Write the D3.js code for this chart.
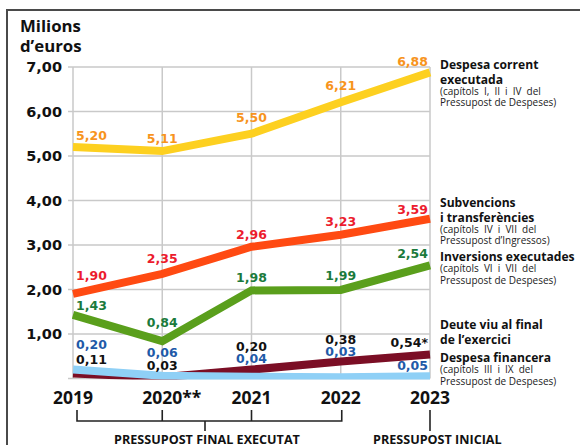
<!DOCTYPE html>
<html>
<head>
<meta charset="utf-8">
<script src="https://cdn.jsdelivr.net/npm/d3@7"></script>
<style>
  body { margin: 0; background: #fff; }
  svg { display: block; }
</style>
</head>
<body>
<div id="chart"></div>
<script>
// Data
const years = ["2019", "2020", "2021", "2022", "2023"];
const yearLabels = ["2019", "2020**", "2021", "2022", "2023"];
const yTicks = [0, 1, 2, 3, 4, 5, 6, 7];

const despesaCorrent = [5.20, 5.11, 5.50, 6.21, 6.88];
const subvencions = [1.90, 2.35, 2.96, 3.23, 3.59];
const inversions = [1.43, 0.84, 1.98, 1.99, 2.54];
const deuteViu = [0.11, 0.03, 0.20, 0.38, 0.54];
const despesaFinancera = [0.20, 0.06, 0.04, 0.03, 0.05];

const deuteLabels = ["0,11", "0,03", "0,20", "0,38", "0,54*"];

// Layout
const width = 580, height = 445;
const fmt = v => v.toFixed(2).replace(".", ",");

// series drawn in this order (maroon under light blue)
const series = [
  { values: despesaCorrent, line: "#fdd020", label: "#f7941d", dy: [-7, -8, -12, -12, -6] },
  { values: subvencions, line: "#ff4a12", label: "#ec1c2e", dy: [-14, -11, -8, -9, -5] },
  { values: inversions, line: "#5a9f1c", label: "#1b7a3c", dy: [-5, -14, -8, -10, -7] },
  { values: deuteViu, line: "#7b0e25", label: "#111111", dy: [-10, -7, -19, -18, -7], texts: deuteLabels },
  { values: despesaFinancera, line: "#8fd0f6", label: "#1f5aa8", dy: [-21, -19, -13.5, -21, -6] }
];

const legend = [
  { y: 69, title: ["Despesa corrent", "executada"], sub: ["(capítols I, II i IV del", "Pressupost de Despeses)"] },
  { y: 207, title: ["Subvencions", "i transferències"], sub: ["(capítols IV i VII del", "Pressupost d’Ingressos)"] },
  { y: 261, title: ["Inversions executades"], sub: ["(capítols VI i VII del", "Pressupost de Despeses)"] },
  { y: 329, title: ["Deute viu al final", "de l’exercici"], sub: [] },
  { y: 362, title: ["Despesa financera"], sub: ["(capítols III i IX del", "Pressupost de Despeses)"] }
];

const svg = d3.select("#chart").append("svg")
  .attr("width", width)
  .attr("height", height);

// outer frame
svg.append("rect")
  .attr("x", 7).attr("y", 10)
  .attr("width", 620).attr("height", 500)
  .attr("fill", "none")
  .attr("stroke", "#4a4a4a")
  .attr("stroke-width", 2);

const x = d3.scalePoint().domain(years).range([73, 430]);
const y = d3.scaleLinear().domain([0, 7]).range([378.5, 67]);

// Grid
const grid = svg.append("g");
grid.selectAll(".hgrid")
  .data(yTicks)
  .join("line")
  .attr("x1", 68).attr("x2", 430)
  .attr("y1", d => y(d)).attr("y2", d => y(d))
  .attr("stroke", "#c9c9c9")
  .attr("stroke-width", 1.5);

grid.selectAll(".vgrid")
  .data(years)
  .join("line")
  .attr("x1", d => x(d)).attr("x2", d => x(d))
  .attr("y1", y(7)).attr("y2", y(0))
  .attr("stroke", "#c9c9c9")
  .attr("stroke-width", 1.5);

// Y tick labels
svg.append("g")
  .selectAll("text")
  .data(yTicks.filter(d => d > 0))
  .join("text")
  .attr("x", 62)
  .attr("y", d => y(d) + 5)
  .attr("text-anchor", "end")
  .attr("font-family", "DejaVu Sans")
  .attr("font-weight", "bold")
  .attr("font-size", 14.5)
  .attr("fill", "#111")
  .text(d => fmt(d));

// Title
svg.append("text")
  .attr("x", 20).attr("y", 32)
  .attr("font-family", "Open Sans")
  .attr("font-weight", "bold")
  .attr("font-size", 16.8)
  .attr("fill", "#111")
  .text("Milions");
svg.append("text")
  .attr("x", 20).attr("y", 52)
  .attr("font-family", "Open Sans")
  .attr("font-weight", "bold")
  .attr("font-size", 16.8)
  .attr("fill", "#111")
  .text("d’euros");

// Lines
svg.append("clipPath").attr("id", "plotClip")
  .append("rect")
  .attr("x", 40).attr("y", 40)
  .attr("width", 420).attr("height", y(0) + 1 - 40);

const line = d3.line()
  .x((d, i) => x(years[i]))
  .y(d => y(d));

const lines = svg.append("g").attr("clip-path", "url(#plotClip)");
series.forEach(s => {
  lines.append("path")
    .datum(s.values)
    .attr("d", line)
    .attr("fill", "none")
    .attr("stroke", s.line)
    .attr("stroke-width", 8);
});

// Value labels
const anchors = ["start", "middle", "middle", "middle", "end"];
const dxs = [3, 0, 0, 0, -2];
series.forEach(s => {
  svg.append("g")
    .selectAll("text")
    .data(s.values)
    .join("text")
    .attr("x", (d, i) => x(years[i]) + dxs[i])
    .attr("y", (d, i) => y(d) + s.dy[i])
    .attr("text-anchor", (d, i) => anchors[i])
    .attr("font-family", "DejaVu Sans")
    .attr("font-weight", "bold")
    .attr("font-size", 12.5)
    .attr("fill", s.label)
    .text((d, i) => s.texts ? s.texts[i] : fmt(d));
});

// X axis labels
const xLab = svg.append("g");
years.forEach((yr, i) => {
  const t = xLab.append("text")
    .attr("x", x(yr))
    .attr("y", 404)
    .attr("text-anchor", "middle")
    .attr("font-family", "Open Sans")
    .attr("font-weight", "bold")
    .attr("font-size", 17.5)
    .attr("fill", "#111")
    .text(yr);
  const extra = yearLabels[i].slice(yr.length);
  if (extra) {
    const w = t.node().getComputedTextLength();
    xLab.append("text")
      .attr("x", x(yr) + w / 2)
      .attr("y", 404)
      .attr("font-family", "Open Sans")
      .attr("font-weight", "bold")
      .attr("font-size", 17.5)
      .attr("fill", "#111")
      .text(extra);
  }
});

// Brackets
const br = svg.append("g")
  .attr("stroke", "#222")
  .attr("stroke-width", 1.6)
  .attr("fill", "none");
const bLeft = x("2019") + 4, bRight = x("2022") + 1;
br.append("path")
  .attr("d", `M${bLeft},410 V421 H${bRight} V410`);
["2020", "2021"].forEach(yr => {
  br.append("line")
    .attr("x1", x(yr)).attr("x2", x(yr))
    .attr("y1", 410).attr("y2", 421);
});
br.append("line")
  .attr("x1", 205).attr("x2", 205)
  .attr("y1", 421).attr("y2", 431);
br.append("line")
  .attr("x1", x("2023")).attr("x2", x("2023"))
  .attr("y1", 410).attr("y2", 431);

svg.append("text")
  .attr("x", 207).attr("y", 444)
  .attr("text-anchor", "middle")
  .attr("font-family", "Open Sans")
  .attr("font-weight", "bold")
  .attr("font-size", 12.6)
  .attr("fill", "#111")
  .text("PRESSUPOST FINAL EXECUTAT");
svg.append("text")
  .attr("x", 373).attr("y", 444)
  .attr("font-family", "Open Sans")
  .attr("font-weight", "bold")
  .attr("font-size", 12.6)
  .attr("fill", "#111")
  .text("PRESSUPOST INICIAL");

// Legend
const lg = svg.append("g");
legend.forEach(item => {
  let yy = item.y;
  item.title.forEach((t, k) => {
    if (k > 0) yy += 14.7;
    lg.append("text")
      .attr("x", 440).attr("y", yy)
      .attr("font-family", "Open Sans")
      .attr("font-weight", "bold")
      .attr("font-size", 12.1)
      .attr("fill", "#111")
      .text(t);
  });
  item.sub.forEach((t, k) => {
    yy += 11.3;
    lg.append("text")
      .attr("x", 440).attr("y", yy)
      .attr("font-family", "Open Sans")
      .attr("font-size", 10)
      .attr("word-spacing", t.startsWith("(") ? 2.5 : 0)
      .attr("fill", "#222")
      .text(t);
  });
});
</script>
</body>
</html>
